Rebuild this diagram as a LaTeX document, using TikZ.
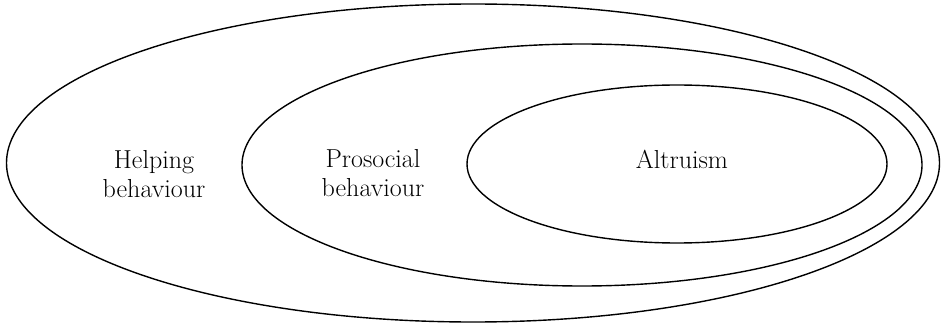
\documentclass[tikz,border=0pt]{standalone}
\usetikzlibrary{shapes.geometric}
\begin{document}
\begin{tikzpicture}[x=1pt,y=1pt,
  ring/.style={draw=black, line width=1.4pt, ellipse, inner sep=0pt, outer sep=0pt},
  label/.style={align=center, inner sep=0pt, font=\fontsize{26}{29}\selectfont}]
\useasboundingbox (0,0) rectangle (941,324);
\node[ring, minimum width=933pt, minimum height=318pt] (outer) at (473,161) {};
\node[ring, minimum width=680pt, minimum height=242pt] (middle) at (582,159) {};
\node[ring, minimum width=420pt, minimum height=158pt] (inner) at (677,160) {};
\node[label] (help) at (154,150) {Helping\\behaviour};
\node[label] (pro) at (373,151) {Prosocial\\behaviour};
\node[label] (alt) at (682,165) {Altruism};
\end{tikzpicture}
\end{document}
